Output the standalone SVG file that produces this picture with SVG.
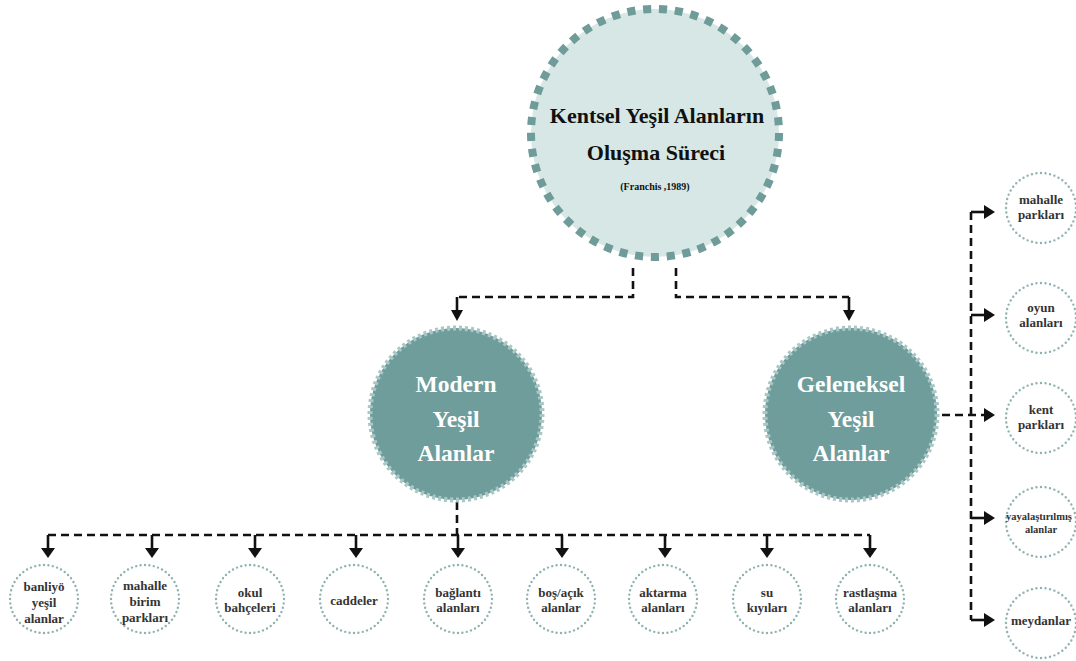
<svg xmlns="http://www.w3.org/2000/svg" width="1076" height="661" viewBox="0 0 1076 661">
  <defs>
    <style>
      .bg { fill: #ffffff; }
      .root-c { fill: #d6e7e5; stroke: #6f9b99; stroke-width: 8; stroke-dasharray: 5.1 4.9; }
      .mid-c { fill: #6e9d9b; stroke: #a9c7c5; stroke-width: 5; stroke-dasharray: 5 5; }
      .leaf-c { fill: #ffffff; stroke: #8fb2b1; stroke-width: 2.4; stroke-linecap: round; stroke-dasharray: 0 1; }
      text { font-family: 'Liberation Serif', 'DejaVu Serif', serif; font-weight: bold; text-anchor: middle; }
      .title { fill: #111; }
      .mid-t { fill: #ffffff; font-size: 23.5px; }
      .leaf-t { fill: #333; font-size: 13px; }
      .dash { fill: none; stroke: #111; stroke-width: 2.6; stroke-dasharray: 8 5; }
      .stem { fill: none; stroke: #111; stroke-width: 2.6; }
      .head { fill: #111; }
    </style>
  </defs>

  <rect class="bg" x="0" y="0" width="1076" height="661"/>

  <!-- connectors -->
  <g id="connectors">
    <!-- root to the two categories -->
    <path class="dash" d="M633 268 V297 H457"/>
    <path class="dash" d="M676 268 V297 H849"/>
    <path class="stem" d="M457 297 V311"/>
    <path class="stem" d="M849 297 V311"/>
    <polygon class="head" points="451,310 463,310 457,321"/>
    <polygon class="head" points="843,310 855,310 849,321"/>

    <!-- modern branch -->
    <path class="dash" d="M457 502 V535"/>
    <path class="dash" d="M48 535 H870"/>
    <g class="stem">
      <path d="M48 535 V549"/><path d="M152 535 V549"/><path d="M255 535 V549"/>
      <path d="M356 535 V549"/><path d="M458 535 V549"/><path d="M562 535 V549"/>
      <path d="M665 535 V549"/><path d="M767 535 V549"/><path d="M870 535 V549"/>
    </g>
    <g class="head">
      <polygon points="41,548 55,548 48,558"/>
      <polygon points="145,548 159,548 152,558"/>
      <polygon points="248,548 262,548 255,558"/>
      <polygon points="349,548 363,548 356,558"/>
      <polygon points="451,548 465,548 458,558"/>
      <polygon points="555,548 569,548 562,558"/>
      <polygon points="658,548 672,548 665,558"/>
      <polygon points="760,548 774,548 767,558"/>
      <polygon points="863,548 877,548 870,558"/>
    </g>

    <!-- traditional branch -->
    <path class="dash" d="M942 415 H984"/>
    <path class="dash" d="M971 212 V620"/>
    <g class="stem">
      <path d="M971 212 H985"/><path d="M971 315 H985"/>
      <path d="M971 518 H985"/><path d="M971 620 H985"/>
    </g>
    <g class="head">
      <polygon points="984,205 984,219 995,212"/>
      <polygon points="984,308 984,322 995,315"/>
      <polygon points="984,408 984,422 995,415"/>
      <polygon points="984,511 984,525 995,518"/>
      <polygon points="984,613 984,627 995,620"/>
    </g>
  </g>

  <!-- root -->
  <g id="root">
    <circle class="root-c" cx="655" cy="133" r="124" pathLength="490"/>
    <text class="title" x="657" y="123" font-size="22">Kentsel Yeşil Alanların</text>
    <text class="title" x="656" y="160" font-size="22">Oluşma Süreci</text>
    <text class="title" x="655" y="190" font-size="10">(Franchis ,1989)</text>
  </g>

  <!-- categories -->
  <g id="modern">
    <circle class="mid-c" cx="456" cy="414" r="86" pathLength="900"/>
    <text class="mid-t" x="456" y="392">Modern</text>
    <text class="mid-t" x="456" y="427">Yeşil</text>
    <text class="mid-t" x="456" y="461">Alanlar</text>
  </g>
  <g id="geleneksel">
    <circle class="mid-c" cx="851" cy="414" r="86" pathLength="900"/>
    <text class="mid-t" x="851" y="392">Geleneksel</text>
    <text class="mid-t" x="851" y="427">Yeşil</text>
    <text class="mid-t" x="851" y="461">Alanlar</text>
  </g>

  <!-- modern leaves -->
  <g id="banliyo">
    <circle class="leaf-c" cx="44" cy="599" r="34" pathLength="48"/>
    <text class="leaf-t" x="44" y="591">banliyö</text>
    <text class="leaf-t" x="44" y="607">yeşil</text>
    <text class="leaf-t" x="44" y="623">alanlar</text>
  </g>
  <g id="mahalle-birim">
    <circle class="leaf-c" cx="145" cy="599" r="34" pathLength="48"/>
    <text class="leaf-t" x="145" y="590">mahalle</text>
    <text class="leaf-t" x="145" y="606">birim</text>
    <text class="leaf-t" x="145" y="622">parkları</text>
  </g>
  <g id="okul">
    <circle class="leaf-c" cx="250" cy="599" r="34" pathLength="48"/>
    <text class="leaf-t" x="250" y="597">okul</text>
    <text class="leaf-t" x="250" y="612">bahçeleri</text>
  </g>
  <g id="caddeler">
    <circle class="leaf-c" cx="354" cy="599" r="34" pathLength="48"/>
    <text class="leaf-t" x="354" y="605">caddeler</text>
  </g>
  <g id="baglanti">
    <circle class="leaf-c" cx="458" cy="599" r="34" pathLength="48"/>
    <text class="leaf-t" x="458" y="597">bağlantı</text>
    <text class="leaf-t" x="458" y="612">alanları</text>
  </g>
  <g id="bos-acik">
    <circle class="leaf-c" cx="561" cy="599" r="34" pathLength="48"/>
    <text class="leaf-t" x="561" y="597">boş/açık</text>
    <text class="leaf-t" x="561" y="612">alanlar</text>
  </g>
  <g id="aktarma">
    <circle class="leaf-c" cx="663" cy="599" r="34" pathLength="48"/>
    <text class="leaf-t" x="663" y="597">aktarma</text>
    <text class="leaf-t" x="663" y="612">alanları</text>
  </g>
  <g id="su">
    <circle class="leaf-c" cx="767" cy="599" r="34" pathLength="48"/>
    <text class="leaf-t" x="767" y="597">su</text>
    <text class="leaf-t" x="767" y="612">kıyıları</text>
  </g>
  <g id="rastlasma">
    <circle class="leaf-c" cx="870" cy="599" r="34" pathLength="48"/>
    <text class="leaf-t" x="870" y="597">rastlaşma</text>
    <text class="leaf-t" x="870" y="612">alanları</text>
  </g>

  <!-- traditional leaves -->
  <g id="mahalle-parklari">
    <circle class="leaf-c" cx="1041" cy="208" r="35" pathLength="48"/>
    <text class="leaf-t" x="1041" y="204">mahalle</text>
    <text class="leaf-t" x="1041" y="219">parkları</text>
  </g>
  <g id="oyun">
    <circle class="leaf-c" cx="1041" cy="318" r="35" pathLength="48"/>
    <text class="leaf-t" x="1041" y="312">oyun</text>
    <text class="leaf-t" x="1041" y="327">alanları</text>
  </g>
  <g id="kent">
    <circle class="leaf-c" cx="1041" cy="418" r="35" pathLength="48"/>
    <text class="leaf-t" x="1041" y="414">kent</text>
    <text class="leaf-t" x="1041" y="429">parkları</text>
  </g>
  <g id="yayalastirilmis">
    <circle class="leaf-c" cx="1041" cy="522" r="35" pathLength="48"/>
    <text class="leaf-t" x="1039" y="520" style="font-size:10.5px">yayalaştırılmış</text>
    <text class="leaf-t" x="1041" y="533" style="font-size:10.5px">alanlar</text>
  </g>
  <g id="meydanlar">
    <circle class="leaf-c" cx="1041" cy="623" r="35" pathLength="48"/>
    <text class="leaf-t" x="1041" y="625">meydanlar</text>
  </g>
</svg>
